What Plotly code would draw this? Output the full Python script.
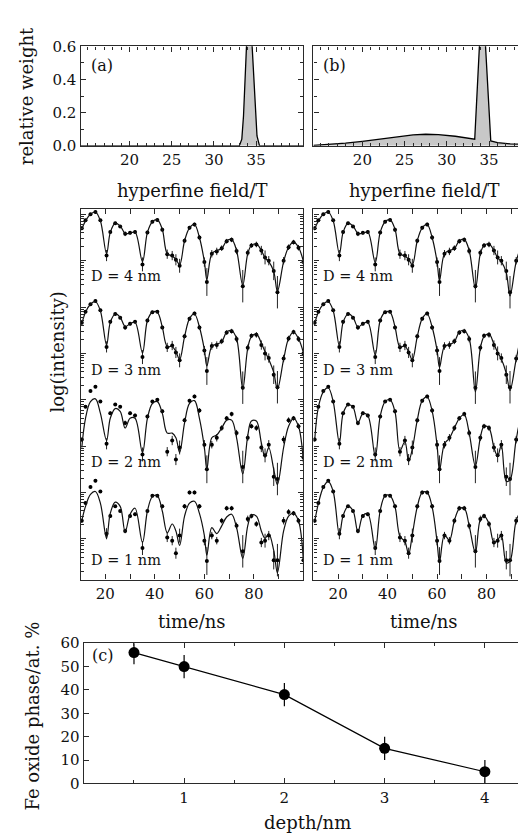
import math
import plotly.graph_objects as go

W, H = 526, 835
FONT = "DejaVu Serif"
INK = "#111111"
SPINE = "#2a2a2a"

# (a) / (b) hyperfine field distributions
field_a = [14.2, 33.0, 33.3, 33.5, 34.15, 34.8, 35.1, 35.4, 40.6]
weight_a = [0, 0, 0.04, 0.18, 0.95, 0.3, 0.06, 0, 0]
field_b = [14.2, 16, 18, 20, 22, 24, 26, 27.5, 29, 31, 32.5, 33.3, 34.2, 35.2, 36, 37.5, 40.2]
weight_b = [0.003, 0.008, 0.016, 0.027, 0.04, 0.055, 0.066, 0.07, 0.068, 0.058, 0.046, 0.04,
            0.95, 0.03, 0.02, 0.012, 0.006]

# time spectra, log(intensity) in decades (stacked as in the figure)
t_ns = [10.5, 12, 14, 16, 18, 20.5, 22, 24, 26, 28, 30, 32, 35, 37, 39, 41, 43, 45, 47, 48.5,
        50, 52, 54, 56, 58, 60, 61, 63, 65, 67, 69, 71, 73, 75.5, 77.5, 79, 81, 83, 84.5, 86,
        88, 89.5, 92, 94, 96, 98, 100]

data_d4 = [7.58, 7.75, 7.88, 7.93, 7.75, 6.99, 7.50, 7.69, 7.62, 7.46, 7.48, 7.50, 6.80, 7.49,
           7.72, 7.76, 7.55, 7.02, 6.99, 6.90, 6.77, 7.31, 7.59, 7.66, 7.38, 6.85, 6.42, 7.03,
           7.08, 7.15, 7.30, 7.33, 7.09, 6.33, 7.05, 7.21, 7.23, 7.10, 6.95, 6.88, 6.66, 6.20,
           6.88, 7.17, 7.28, 7.16, 6.85]
data_d3 = [5.54, 5.78, 5.94, 6.01, 5.81, 5.02, 5.56, 5.73, 5.65, 5.44, 5.52, 5.56, 4.80, 5.59,
           5.77, 5.78, 5.44, 5.01, 5.05, 4.90, 4.73, 5.25, 5.63, 5.74, 5.44, 4.94, 4.50, 5.04,
           5.06, 5.14, 5.33, 5.36, 5.19, 4.14, 5.00, 5.26, 5.28, 5.06, 4.88, 4.78, 4.42, 4.15,
           4.77, 5.20, 5.34, 5.19, 4.88]
data_d2 = [3.02, 3.73, 4.07, 4.16, 3.84, 2.93, 3.59, 3.78, 3.73, 3.38, 3.59, 3.54, 2.70, 3.52,
           3.84, 3.88, 3.63, 2.76, 3.00, 2.59, 2.85, 3.44, 3.86, 3.95, 3.65, 2.91, 2.38, 2.91,
           3.06, 3.27, 3.48, 3.57, 3.16, 2.43, 3.06, 3.31, 3.27, 2.85, 2.68, 2.91, 2.22, 2.17,
           3.02, 3.44, 3.48, 3.31, 2.64]
data_d1 = [1.27, 1.65, 2.00, 2.13, 1.90, 0.99, 1.37, 1.58, 1.48, 1.05, 1.37, 1.41, 0.68, 1.48,
           1.81, 1.81, 1.58, 0.91, 0.84, 0.57, 0.95, 1.58, 1.88, 1.88, 1.58, 0.84, 0.40, 0.95,
           0.84, 1.27, 1.54, 1.54, 1.16, 0.61, 1.31, 1.37, 1.20, 0.80, 0.84, 0.95, 0.42, 0.42,
           1.27, 1.46, 1.43, 1.27, 0.42]
data_err = [0.04, 0.03, 0.03, 0.03, 0.03, 0.12, 0.04, 0.03, 0.03, 0.05, 0.04, 0.04, 0.15, 0.04,
            0.03, 0.03, 0.04, 0.10, 0.10, 0.12, 0.15, 0.05, 0.04, 0.04, 0.05, 0.10, 0.30, 0.08,
            0.08, 0.06, 0.05, 0.05, 0.07, 0.35, 0.07, 0.05, 0.06, 0.10, 0.15, 0.10, 0.20, 0.35,
            0.08, 0.06, 0.05, 0.06, 0.20]

# fits with distribution (a)
fit_a_d4 = [7.56, 7.74, 7.88, 7.93, 7.74, 7.03, 7.49, 7.69, 7.63, 7.47, 7.47, 7.50, 6.86, 7.49,
            7.72, 7.76, 7.56, 7.03, 6.98, 6.91, 6.79, 7.31, 7.59, 7.66, 7.38, 6.86, 6.47, 7.03,
            7.10, 7.14, 7.31, 7.34, 7.10, 6.35, 7.03, 7.21, 7.24, 7.10, 6.94, 6.86, 6.65, 6.22,
            6.86, 7.17, 7.28, 7.17, 6.86]
fit_a_d3 = [5.52, 5.77, 5.94, 6.00, 5.80, 5.06, 5.55, 5.73, 5.66, 5.46, 5.52, 5.55, 4.89, 5.59,
            5.77, 5.77, 5.45, 5.03, 5.03, 4.92, 4.75, 5.24, 5.63, 5.73, 5.45, 4.96, 4.61, 5.03,
            5.08, 5.13, 5.34, 5.37, 5.20, 4.11, 4.99, 5.24, 5.30, 5.10, 4.92, 4.75, 4.47, 4.11,
            4.75, 5.20, 5.34, 5.20, 4.89]
fit_a_d2 = [2.85, 3.48, 3.84, 3.90, 3.59, 3.00, 3.48, 3.69, 3.63, 3.27, 3.48, 3.48, 2.74, 3.48,
            3.80, 3.84, 3.59, 3.16, 3.16, 3.06, 2.74, 3.38, 3.80, 3.86, 3.48, 2.85, 2.38, 3.06,
            3.12, 3.27, 3.44, 3.44, 3.06, 2.28, 3.10, 3.42, 3.42, 2.95, 2.64, 2.85, 2.38, 2.05,
            2.85, 3.31, 3.48, 3.31, 2.53]
fit_a_d1 = [1.27, 1.58, 1.84, 1.90, 1.65, 0.89, 1.43, 1.67, 1.58, 1.03, 1.41, 1.54, 0.80, 1.48,
            1.79, 1.81, 1.48, 1.01, 1.20, 1.05, 0.74, 1.37, 1.65, 1.69, 1.43, 0.95, 0.53, 1.12,
            0.99, 1.16, 1.35, 1.41, 1.12, 0.46, 1.16, 1.39, 1.37, 1.05, 0.89, 0.99, 0.63, 0.15,
            1.05, 1.37, 1.43, 1.27, 0.38]

# fits with distribution (b)
fit_b_d4 = [7.56, 7.74, 7.88, 7.93, 7.74, 7.03, 7.49, 7.69, 7.63, 7.47, 7.47, 7.50, 6.84, 7.49,
            7.72, 7.76, 7.56, 7.03, 6.98, 6.91, 6.79, 7.31, 7.59, 7.66, 7.38, 6.86, 6.45, 7.03,
            7.10, 7.14, 7.31, 7.34, 7.10, 6.28, 7.03, 7.21, 7.24, 7.10, 6.94, 6.86, 6.62, 6.12,
            6.86, 7.17, 7.28, 7.17, 6.86]
fit_b_d3 = [5.52, 5.77, 5.94, 6.00, 5.80, 5.04, 5.55, 5.73, 5.66, 5.45, 5.52, 5.55, 4.85, 5.59,
            5.77, 5.77, 5.45, 5.02, 5.04, 4.91, 4.74, 5.24, 5.63, 5.73, 5.45, 4.95, 4.58, 5.03,
            5.07, 5.13, 5.34, 5.37, 5.20, 4.05, 4.99, 5.24, 5.30, 5.08, 4.90, 4.76, 4.45, 4.08,
            4.75, 5.20, 5.34, 5.20, 4.89]
fit_b_d2 = [3.00, 3.72, 4.05, 4.14, 3.84, 2.95, 3.58, 3.77, 3.72, 3.38, 3.58, 3.54, 2.66, 3.52,
            3.84, 3.88, 3.62, 2.78, 2.98, 2.55, 2.82, 3.44, 3.86, 3.94, 3.64, 2.90, 2.36, 2.93,
            3.05, 3.27, 3.48, 3.56, 3.16, 2.45, 3.06, 3.31, 3.27, 2.85, 2.66, 2.90, 2.12, 2.15,
            3.02, 3.44, 3.48, 3.31, 2.64]
fit_b_d1 = [1.25, 1.64, 1.99, 2.12, 1.90, 0.97, 1.38, 1.58, 1.49, 1.03, 1.38, 1.42, 0.66, 1.49,
            1.81, 1.81, 1.57, 0.93, 0.82, 0.55, 0.97, 1.57, 1.88, 1.88, 1.57, 0.82, 0.38, 0.96,
            0.85, 1.27, 1.53, 1.54, 1.16, 0.58, 1.30, 1.37, 1.21, 0.80, 0.86, 0.95, 0.36, 0.40,
            1.27, 1.46, 1.43, 1.27, 0.40]

depth_labels = ["D = 4 nm", "D = 3 nm", "D = 2 nm", "D = 1 nm"]

# (c) oxide fraction vs depth
depth_nm = [0.5, 1, 2, 3, 4]
oxide_pct = [56, 50, 38, 15, 5]
oxide_err = [5, 5, 5, 5, 5]


def hx(px):
    return px / W


def vy(py):
    return 1 - py / H


def axis(dom, rng, **kw):
    d = dict(domain=dom, range=rng, showline=True, linecolor=SPINE, linewidth=1.4,
             mirror="ticks", ticks="inside", ticklen=5, tickwidth=1, tickcolor=SPINE,
             showgrid=False, zeroline=False, fixedrange=True,
             tickfont=dict(family=FONT, size=15, color=INK))
    d.update(kw)
    return d


fig = go.Figure()

# distributions
fig.add_trace(go.Scatter(x=field_a, y=weight_a, mode="lines", fill="tozeroy",
                         fillcolor="#c8c8c8", line=dict(color="black", width=1.3),
                         xaxis="x", yaxis="y"))
fig.add_trace(go.Scatter(x=field_b, y=weight_b, mode="lines", fill="tozeroy",
                         fillcolor="#c8c8c8", line=dict(color="black", width=1.3),
                         xaxis="x2", yaxis="y2"))

# spectra: data points with error bars, fit curve on top
data_sets = [data_d4, data_d3, data_d2, data_d1]
fits_a = [fit_a_d4, fit_a_d3, fit_a_d2, fit_a_d1]
fits_b = [fit_b_d4, fit_b_d3, fit_b_d2, fit_b_d1]
for xa, ya, fits in [("x3", "y3", fits_a), ("x4", "y4", fits_b)]:
    for dat, fit in zip(data_sets, fits):
        fig.add_trace(go.Scatter(x=t_ns, y=dat, mode="markers", xaxis=xa, yaxis=ya,
                                 marker=dict(color="black", size=4),
                                 error_y=dict(type="data", array=data_err, width=0,
                                              thickness=1, color="#222")))
        fig.add_trace(go.Scatter(x=t_ns, y=fit, mode="lines", xaxis=xa, yaxis=ya,
                                 line=dict(color="#111", width=1.2, shape="spline",
                                           smoothing=1.0)))

# depth profile
fig.add_trace(go.Scatter(x=depth_nm, y=oxide_pct, mode="lines+markers", xaxis="x5",
                         yaxis="y5", line=dict(color="black", width=1.2),
                         marker=dict(color="black", size=11),
                         error_y=dict(type="data", array=oxide_err, width=0, thickness=1.2,
                                      color="black")))

# log-style ticks for the spectra panels
decades = [d + 0.88 for d in range(-1, 8)]
major_log = [d for d in decades if 0 <= d <= 8]
minor_log = [d + math.log10(k) for d in decades for k in range(2, 10)
             if 0 <= d + math.log10(k) <= 8]

top_y = [vy(131.7), vy(30)]
mid_y = [vy(575), vy(196)]
left_x = [hx(72.7), hx(296)]
right_x = [hx(306), 1.0]

fig.update_layout(
    width=W, height=H, margin=dict(l=0, r=0, t=0, b=0),
    paper_bgcolor="white", plot_bgcolor="white", showlegend=False,
    xaxis=axis(left_x, [14.2, 40.6], anchor="y", tickvals=[20, 25, 30, 35],
               minor=dict(dtick=1, tick0=0, ticks="inside", ticklen=3, tickcolor=SPINE)),
    yaxis=axis(top_y, [0, 0.6], anchor="x", tickvals=[0, 0.2, 0.4, 0.6],
               ticktext=["0.0", "0.2", "0.4", "0.6"],
               minor=dict(dtick=0.1, tick0=0, ticks="inside", ticklen=3, tickcolor=SPINE)),
    xaxis2=axis(right_x, [14.2, 40.2], anchor="y2", tickvals=[20, 25, 30, 35],
                minor=dict(dtick=1, tick0=0, ticks="inside", ticklen=3, tickcolor=SPINE)),
    yaxis2=axis(top_y, [0, 0.6], anchor="x2", tickvals=[0, 0.2, 0.4, 0.6],
                showticklabels=False,
                minor=dict(dtick=0.1, tick0=0, ticks="inside", ticklen=3, tickcolor=SPINE)),
    xaxis3=axis(left_x, [10, 100], anchor="y3", tickvals=[20, 40, 60, 80],
                minor=dict(dtick=10, tick0=0, ticks="inside", ticklen=5, tickcolor=SPINE)),
    yaxis3=axis(mid_y, [0, 8], anchor="x3", tickvals=major_log, showticklabels=False,
                minor=dict(tickvals=minor_log, ticks="inside", ticklen=3, tickcolor=SPINE)),
    xaxis4=axis(right_x, [10, 98.8], anchor="y4", tickvals=[20, 40, 60, 80],
                minor=dict(dtick=10, tick0=0, ticks="inside", ticklen=5, tickcolor=SPINE)),
    yaxis4=axis(mid_y, [0, 8], anchor="x4", tickvals=major_log, showticklabels=False,
                minor=dict(tickvals=minor_log, ticks="inside", ticklen=3, tickcolor=SPINE)),
    xaxis5=axis([hx(76), hx(523)], [0, 4.45], anchor="y5", tickvals=[1, 2, 3, 4],
                minor=dict(dtick=0.5, tick0=0, ticks="inside", ticklen=3, tickcolor=SPINE)),
    yaxis5=axis([vy(783.3), vy(640)], [0, 60], anchor="x5",
                tickvals=[0, 10, 20, 30, 40, 50, 60]),
)


def label(text, px, py, size=18, angle=0, xanchor="center"):
    fig.add_annotation(text=text, x=hx(px), y=vy(py), xref="paper", yref="paper",
                       showarrow=False, textangle=angle, xanchor=xanchor, yanchor="middle",
                       font=dict(family=FONT, size=size, color=INK))


label("relative weight", 18, 81, angle=-90)
label("hyperfine field/T", 184.4, 177)
label("hyperfine field/T", 417, 177)
label("(a)", 81, 50, size=16, xanchor="left")
label("(b)", 314, 50, size=16, xanchor="left")
label("log(intensity)", 50, 342, angle=-90)
label("time/ns", 184.4, 618)
label("time/ns", 417, 618)
for txt, py in zip(depth_labels, [265, 361, 455, 555]):
    label(txt, 81, py, size=14.5, xanchor="left")
    label(txt, 314, py, size=14.5, xanchor="left")
label("Fe oxide phase/at. %", 25, 714, angle=-90)
label("depth/nm", 300, 823)
label("(c)", 82, 653, size=16, xanchor="left")

fig.write_html("out.html")
